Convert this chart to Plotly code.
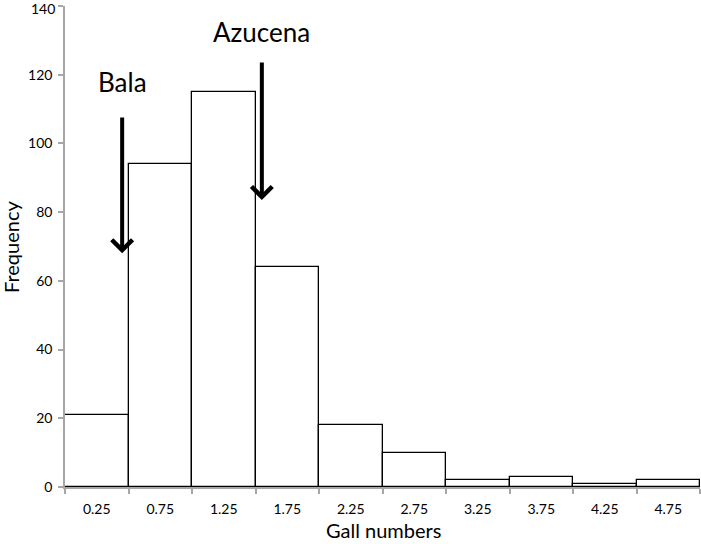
import plotly.graph_objects as go

bin_centers = [0.25, 0.75, 1.25, 1.75, 2.25, 2.75, 3.25, 3.75, 4.25, 4.75]
tick_labels = ["0.25", "0.75", "1.25", "1.75", "2.25", "2.75", "3.25", "3.75", "4.25", "4.75"]
frequency = [21, 94, 115, 64, 18, 10, 2, 3, 1, 2]
bin_edges = [0, 0.5, 1.0, 1.5, 2.0, 2.5, 3.0, 3.5, 4.0, 4.5, 5.0]
y_ticks = [0, 20, 40, 60, 80, 100, 120, 140]

arrow_labels = ["Bala", "Azucena"]
arrow_x = [0.45, 1.55]
arrow_tip_y = [68, 83.5]
arrow_tail_y = [108, 124]
label_y = [118, 132.5]

FONT = "Lato, 'Open Sans', sans-serif"
AXIS_GRAY = "#a6a6a6"

fig = go.Figure()
fig.add_trace(go.Bar(
    x=bin_centers, y=frequency, width=0.5,
    marker=dict(color="white", line=dict(color="black", width=1.3)),
    showlegend=False,
))

for lbl, x, ty, tl, ly in zip(arrow_labels, arrow_x, arrow_tip_y, arrow_tail_y, label_y):
    fig.add_annotation(
        x=x, y=ty, ax=x, ay=tl, xref="x", yref="y", axref="x", ayref="y",
        showarrow=True, arrowhead=4, arrowwidth=4, arrowsize=1.0, arrowcolor="black", text="",
    )
    fig.add_annotation(
        x=x, y=ly, xref="x", yref="y", text=lbl, showarrow=False,
        font=dict(family=FONT, size=26, color="black"), yanchor="middle",
    )

# top y tick label (plotly drops it at the paper edge)
fig.add_annotation(x=0, y=y_ticks[-1], xref="paper", yref="y", text=str(y_ticks[-1]),
                   showarrow=False, xanchor="right", yanchor="middle", xshift=-8, yshift=-2,
                   font=dict(family=FONT, size=14, color="black"))

# axis titles
fig.add_annotation(x=0.5008, y=-0.0894, xref="paper", yref="paper", text="Gall numbers",
                   showarrow=False, font=dict(family=FONT, size=20, color="black"),
                   xanchor="center", yanchor="middle")
fig.add_annotation(x=-0.085, y=0.499, xref="paper", yref="paper", text="Frequency",
                   showarrow=False, textangle=-90, font=dict(family=FONT, size=20, color="black"),
                   xanchor="center", yanchor="middle")

fig.update_layout(
    width=701, height=544,
    margin=dict(l=65, r=1, t=6, b=57, autoexpand=False),
    paper_bgcolor="white", plot_bgcolor="white",
    font=dict(family=FONT, color="black"),
    bargap=0,
)
fig.update_xaxes(
    range=[0, 5], tickvals=bin_centers, ticktext=tick_labels, automargin=False,
    ticks="", tickfont=dict(size=14, color="black"), ticklabelstandoff=8,
    showline=True, linecolor=AXIS_GRAY, linewidth=1.5,
    showgrid=False, zeroline=False,
    minor=dict(tickvals=bin_edges, ticks="outside", ticklen=5, tickcolor=AXIS_GRAY, tickwidth=1.5, showgrid=False),
)
fig.update_yaxes(
    range=[0, 140], tickvals=y_ticks, ticktext=[str(v) for v in y_ticks],
    ticks="outside", ticklen=5, tickcolor=AXIS_GRAY, tickwidth=1.5,
    tickfont=dict(size=14, color="black"), automargin=False, ticklabelstandoff=3,
    showline=True, linecolor=AXIS_GRAY, linewidth=1.5,
    showgrid=False, zeroline=False,
)

fig.write_html("out.html", config={"displayModeBar": False},
               post_script="document.body.style.margin='0px';document.body.style.overflow='hidden';")
